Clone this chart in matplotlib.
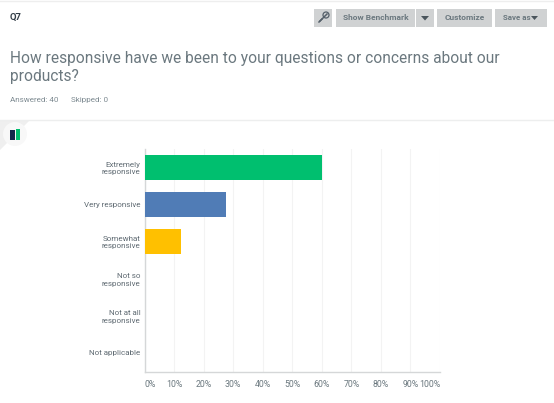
import matplotlib
matplotlib.use("Agg")
import matplotlib.pyplot as plt
from matplotlib.patches import Rectangle, Polygon, Circle

plt.rcParams['font.family'] = ['Roboto', 'DejaVu Sans']

# data
categories = ["Extremely\nresponsive", "Very responsive", "Somewhat\nresponsive",
              "Not so\nresponsive", "Not at all\nresponsive", "Not applicable"]
percent_values = [60, 27.5, 12.5, 0, 0, 0]
bar_colors = ["#00BF6F", "#507CB6", "#FFC000", "#6BC8CD", "#7D6BAE", "#F05B24"]
x_ticks = [0, 10, 20, 30, 40, 50, 60, 70, 80, 90, 100]
x_tick_labels = ["0%", "10%", "20%", "30%", "40%", "50%", "60%", "70%", "80%", "90%", "100%"]
button_labels = ["Show Benchmark", "Customize", "Save as"]

W, H = 554, 403
fig = plt.figure(figsize=(W / 100, H / 100), dpi=100, facecolor="white")

# page furniture drawn in pixel coordinates
ui = fig.add_axes([0, 0, 1, 1])
ui.set_xlim(0, W)
ui.set_ylim(H, 0)
ui.axis("off")

ui.plot([0, W], [0.5, 0.5], color="#EEEEEE", lw=1)
ui.plot([0, W], [119.5, 119.5], color="#EDEEEE", lw=1)
ui.add_patch(Polygon([(0, 120), (30, 120), (0, 150)], color="#EFEFEF", lw=0))
ui.add_patch(Circle((15, 134), 12, color="#F8F8F8", lw=0))

# little chart icon
ui.add_patch(Rectangle((10, 130), 5, 10, color="#14284B", lw=0))
ui.add_patch(Rectangle((16, 129), 4, 11, color="#00BF6F", lw=0))

BTN = "#D0D2D3"
TXT = "#6B787F"
for x0, x1 in [(314, 332), (336, 415), (416, 434), (437, 492), (495, 547)]:
    ui.add_patch(Rectangle((x0, 8.5), x1 - x0, 18.5, color=BTN, lw=0))

# pin icon on the first button
ui.plot([320, 327], [21, 14], color="#55606A", lw=1.1)
ui.add_patch(Circle((326, 15), 3, fc="none", ec="#55606A", lw=0.9))
ui.plot([319, 322], [22, 19], color="#55606A", lw=1.1)

ui.text(375.5, 18, button_labels[0], fontsize=6, fontweight="bold", color=TXT, ha="center", va="center")
ui.add_patch(Polygon([(421, 16), (429, 16), (425, 20.5)], color="#4A555C", lw=0))
ui.text(464.5, 18, button_labels[1], fontsize=6, fontweight="bold", color=TXT, ha="center", va="center")
ui.text(503, 18, button_labels[2], fontsize=5.7, fontweight="bold", color=TXT, ha="left", va="center")
ui.add_patch(Polygon([(531, 16), (538, 16), (534.5, 20)], color="#4A555C", lw=0))

ui.text(10, 17.5, "Q7", fontsize=6.8, fontweight="bold", color="#333E48", ha="left", va="center")
ui.text(10, 59, "How responsive have we been to your questions or concerns about our",
        fontsize=11.2, color="#6B787F", ha="left", va="center")
ui.text(10, 77, "products?", fontsize=11.2, color="#6B787F", ha="left", va="center")
ui.text(10, 100, "Answered: 40", fontsize=5.8, color="#7D8A91", ha="left", va="center")
ui.text(71, 100, "Skipped: 0", fontsize=5.8, color="#7D8A91", ha="left", va="center")

# chart
ax = fig.add_axes([144.5 / W, (H - 371.5) / H, 295.5 / W, 222.5 / H])
ax.patch.set_alpha(0)
ypos = list(range(len(categories)))
ax.barh(ypos, percent_values, height=0.67, color=bar_colors, zorder=3)
ax.set_xlim(0, 100)
ax.set_ylim(5.5, -0.5)
ax.set_yticks(ypos)
ax.set_yticklabels(categories, fontsize=5.8, color="#5F6A72", linespacing=1.25)
ax.set_xticks(x_ticks)
ax.set_xticklabels(x_tick_labels, fontsize=6.3, color="#6B787F")
labels = ax.get_xticklabels()
labels[0].set_ha("left")
labels[-1].set_ha("right")
ax.tick_params(length=0)
ax.tick_params(axis="y", pad=3)
ax.tick_params(axis="x", pad=6)
ax.grid(axis="x", color="#F3F3F3", lw=0.8, zorder=0)
for s in ["top", "right"]:
    ax.spines[s].set_visible(False)
for s in ["left", "bottom"]:
    ax.spines[s].set_color("#D5D7D8")
    ax.spines[s].set_linewidth(1)

fig.savefig("out.png", dpi=100)
